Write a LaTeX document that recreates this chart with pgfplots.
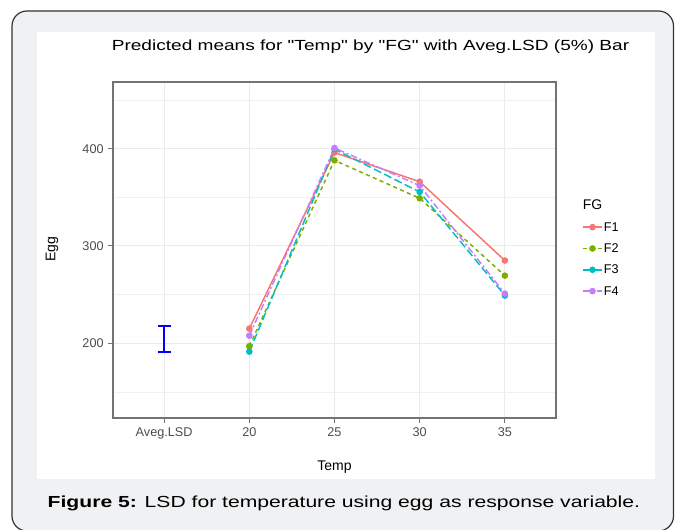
\documentclass[border=0pt]{standalone}
\usepackage{fontspec}
\setmainfont{Liberation Sans}
\usepackage{graphicx}
\usepackage{pgfplots}
\pgfplotsset{compat=1.18}

\definecolor{cFa}{HTML}{F8766D}
\definecolor{cFb}{HTML}{7CAE00}
\definecolor{cFc}{HTML}{00BFC4}
\definecolor{cFd}{HTML}{C77CFF}
\definecolor{framebg}{HTML}{F0F1F3}
\definecolor{tickgray}{HTML}{4D4D4D}
\definecolor{gridgray}{HTML}{EBEBEB}

\begin{document}
\begin{tikzpicture}[x=0.75pt,y=0.75pt]
\path[use as bounding box] (0,0) rectangle (675,530);
\begin{scope}
  \clip (0,0) rectangle (675,530);
  \draw[fill=framebg, draw=black!80, line width=0.9pt, rounded corners=11.25pt]
    (12,-1) rectangle (673.5,519);
\end{scope}
\fill[white] (36.7,50.7) rectangle (655,498);

\node at (370.5,483) {\scalebox{1.3}[1]{\fontsize{11}{13}\selectfont Predicted means for \textquotedbl Temp\textquotedbl{} by \textquotedbl FG\textquotedbl{} with Aveg.LSD (5\%) Bar}};
\node[rotate=90] at (52,280.5) {\fontsize{10.5}{12}\selectfont Egg};
\node at (334.5,63) {\fontsize{10.5}{12}\selectfont Temp};
\node[anchor=west] at (43,27) {\scalebox{1.32}[1]{\fontsize{12}{14}\selectfont\textbf{Figure 5:} LSD for temperature using egg as response variable.}};

\begin{axis}[
    at={(84.75pt,84pt)}, anchor=south west,
    scale only axis,
    width=332.25pt, height=252pt,
    xmin=-0.6, xmax=4.6,
    ymin=123.2, ymax=468.5,
    xtick={0,1,2,3,4},
    xticklabels={Aveg.LSD,20,25,30,35},
    ytick={200,300,400},
    minor ytick={150,250,350,450},
    grid=both,
    major grid style={gridgray, line width=0.8pt},
    minor grid style={gridgray!70, line width=0.5pt},
    axis line style={black!55, line width=0.8pt},
    tick style={black!55, line width=0.8pt},
    tick align=outside,
    tick pos=left,
    major tick length=3.5pt,
    minor tick length=0pt,
    ticklabel style={font=\fontsize{9.5}{11}\selectfont, text=tickgray},
    /pgf/number format/assume math mode=true,
    every axis plot/.append style={line width=1.1pt, mark=*, mark size=1.9pt, mark options={solid}},
    legend style={at={(1.05,0.664)}, anchor=north west, draw=none, fill=none,
      font=\fontsize{9.5}{11}\selectfont, row sep=4pt,
      nodes={inner sep=1pt, text height=8pt, text depth=2pt}},
    legend cell align=left,
    legend image code/.code={\draw[mark repeat=2,mark phase=2,#1] plot coordinates {(0pt,0pt) (7pt,0pt) (14pt,0pt)};},
]
\addlegendimage{empty legend}
\addlegendentry{\hspace*{-16pt}\fontsize{10.5}{12}\selectfont FG}

\addplot[cFa, solid] coordinates {(1,215) (2,396) (3,366) (4,285)};
\addlegendentry{F1}
\addplot[cFb, dash pattern=on 3pt off 2.6pt] coordinates {(1,197) (2,388) (3,349) (4,269.5)};
\addlegendentry{F2}
\addplot[cFc, dash pattern=on 6pt off 2.6pt] coordinates {(1,191.4) (2,399.4) (3,355.5) (4,249)};
\addlegendentry{F3}
\addplot[cFd, dash pattern=on 5pt off 2pt on 1.5pt off 2pt] coordinates {(1,207.8) (2,400.7) (3,362) (4,251)};
\addlegendentry{F4}

% average LSD bar
\addplot[blue, line width=1.5pt, mark=none, forget plot] coordinates {(-0.075,218) (0.075,218)};
\addplot[blue, line width=1.5pt, mark=none, forget plot] coordinates {(0,218) (0,191.4)};
\addplot[blue, line width=1.5pt, mark=none, forget plot] coordinates {(-0.075,191.4) (0.075,191.4)};
\end{axis}
\end{tikzpicture}
\end{document}
